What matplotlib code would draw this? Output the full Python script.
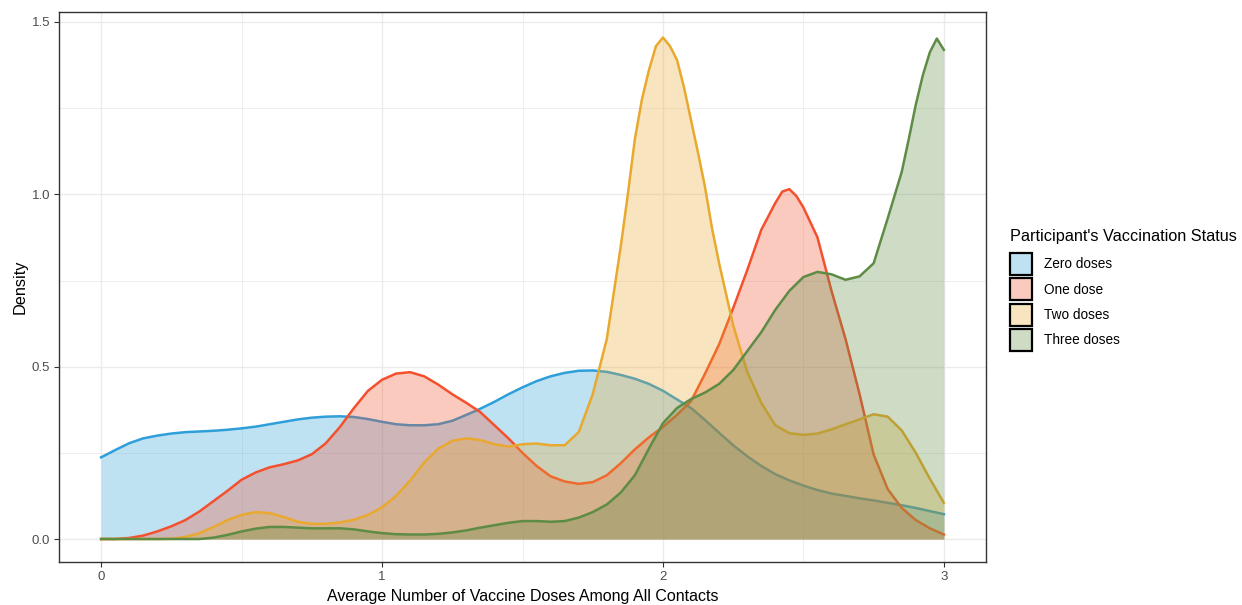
import numpy as np
import matplotlib
matplotlib.use("Agg")
import matplotlib.pyplot as plt
from matplotlib.patches import Patch

plt.rcParams['font.family'] = ['Liberation Sans', 'DejaVu Sans']

# density values, x grid 0..3 step 0.05
x_grid = np.round(np.arange(0, 3.0001, 0.05), 2)

zero_doses = [0.237, 0.258, 0.278, 0.292, 0.300, 0.306, 0.310, 0.312, 0.314, 0.317,
              0.321, 0.326, 0.333, 0.340, 0.347, 0.352, 0.355, 0.356, 0.354, 0.348,
              0.340, 0.333, 0.330, 0.330, 0.333, 0.343, 0.360, 0.378, 0.398, 0.420,
              0.440, 0.458, 0.472, 0.482, 0.488, 0.489, 0.485, 0.476, 0.465, 0.450,
              0.430, 0.405, 0.380, 0.345, 0.308, 0.272, 0.240, 0.212, 0.188, 0.170,
              0.155, 0.142, 0.132, 0.125, 0.118, 0.112, 0.105, 0.098, 0.090, 0.081,
              0.072]
one_dose = [0.000, 0.000, 0.003, 0.010, 0.022, 0.037, 0.055, 0.080, 0.110, 0.140,
            0.172, 0.193, 0.208, 0.217, 0.228, 0.246, 0.278, 0.325, 0.380, 0.430,
            0.462, 0.480, 0.484, 0.472, 0.448, 0.420, 0.395, 0.368, 0.330, 0.292,
            0.250, 0.212, 0.182, 0.167, 0.160, 0.165, 0.185, 0.220, 0.260, 0.295,
            0.325, 0.360, 0.400, 0.480, 0.565, 0.670, 0.780, 0.897, 0.975, 1.015,
            0.962, 0.875, 0.720, 0.580, 0.420, 0.245, 0.145, 0.090, 0.055, 0.031,
            0.013]
two_doses = [0.000, 0.000, 0.000, 0.000, 0.000, 0.001, 0.006, 0.017, 0.035, 0.055,
             0.070, 0.078, 0.075, 0.064, 0.050, 0.044, 0.044, 0.048, 0.056, 0.070,
             0.092, 0.125, 0.170, 0.222, 0.262, 0.285, 0.292, 0.287, 0.275, 0.268,
             0.275, 0.277, 0.272, 0.272, 0.310, 0.420, 0.580, 0.850, 1.160, 1.360,
             1.455, 1.390, 1.215, 1.020, 0.800, 0.620, 0.485, 0.395, 0.330, 0.307,
             0.302, 0.306, 0.318, 0.333, 0.347, 0.362, 0.355, 0.315, 0.250, 0.175,
             0.105]
three_doses = [0.000, 0.000, 0.000, 0.000, 0.000, 0.000, 0.000, 0.000, 0.004, 0.012,
               0.022, 0.030, 0.035, 0.035, 0.033, 0.031, 0.031, 0.031, 0.028, 0.022,
               0.017, 0.014, 0.013, 0.013, 0.015, 0.019, 0.025, 0.033, 0.040, 0.047,
               0.052, 0.052, 0.050, 0.052, 0.062, 0.078, 0.100, 0.135, 0.185, 0.262,
               0.336, 0.380, 0.406, 0.425, 0.450, 0.490, 0.545, 0.600, 0.665, 0.720,
               0.760, 0.775, 0.768, 0.752, 0.762, 0.800, 0.930, 1.065, 1.260, 1.412,
               1.419]

# extra readings around the sharp peaks
one_peak_x = [2.425, 2.475]
one_peak_y = [1.008, 0.995]
two_peak_x = [1.875, 1.925, 1.975, 2.025, 2.075, 2.125, 2.175]
two_peak_y = [1.000, 1.275, 1.430, 1.430, 1.310, 1.120, 0.900]
three_peak_x = [2.875, 2.925, 2.975]
three_peak_y = [1.160, 1.345, 1.452]

labels = ["Zero doses", "One dose", "Two doses", "Three doses"]
colors = ["#2E9FD9", "#F4502E", "#E8A92E", "#5E8C45"]


def merge(xa, ya, xb, yb):
    xs = np.concatenate([xa, xb])
    ys = np.concatenate([ya, yb])
    order = np.argsort(xs)
    return xs[order], ys[order]


series = [
    (x_grid, np.array(zero_doses)),
    merge(x_grid, one_dose, one_peak_x, one_peak_y),
    merge(x_grid, two_doses, two_peak_x, two_peak_y),
    merge(x_grid, three_doses, three_peak_x, three_peak_y),
]

fig = plt.figure(figsize=(12.42, 6.05), dpi=100)
ax = fig.add_axes([59 / 1242, 43 / 605, (986 - 59) / 1242, (562 - 12) / 605])

for i, ((xs, ys), c) in enumerate(zip(series, colors)):
    ax.fill_between(xs, 0, ys, color=c, alpha=0.3, linewidth=0, zorder=2 + i)
    ax.plot(xs, ys, color=c, lw=1.8, zorder=2 + i, solid_joinstyle='round')

ax.set_xlim(-0.15, 3.15)
ax.set_ylim(-0.0667, 1.529)
ax.set_xticks([0, 1, 2, 3])
ax.set_yticks([0.0, 0.5, 1.0, 1.5])
ax.set_yticklabels(["0.0", "0.5", "1.0", "1.5"])
ax.set_xticks([0.5, 1.5, 2.5], minor=True)
ax.set_yticks([0.25, 0.75, 1.25], minor=True)
ax.grid(True, which='major', color='#EBEBEB', lw=1.0, zorder=0)
ax.grid(True, which='minor', color='#EBEBEB', lw=0.6, zorder=0)
ax.set_axisbelow(True)
ax.tick_params(which='major', length=3.5, width=0.8, color='#333333',
               labelsize=9.5, labelcolor='#4D4D4D', pad=3)
ax.tick_params(which='minor', length=0)
for s in ax.spines.values():
    s.set_color('#333333')
    s.set_linewidth(1.0)

ax.set_xlabel("Average Number of Vaccine Doses Among All Contacts", fontsize=11.5, labelpad=4.5)
ax.set_ylabel("Density", fontsize=11.7, labelpad=2.5)

fig.text(1010 / 1242, 1 - 236 / 605, "Participant's Vaccination Status",
         fontsize=11.7, va='center', ha='left')
handles = [Patch(facecolor=matplotlib.colors.to_rgba(c, 0.3), edgecolor='black', linewidth=1.6)
           for c in colors]
leg = fig.legend(handles, labels,
                 loc='upper left', bbox_to_anchor=(1010 / 1242, 1 - 253 / 605),
                 frameon=False, fontsize=9.8,
                 handlelength=1.62, handleheight=2.11, labelspacing=0.24,
                 handletextpad=0.88, borderpad=0, borderaxespad=0)

fig.savefig("out.png", dpi=100)
